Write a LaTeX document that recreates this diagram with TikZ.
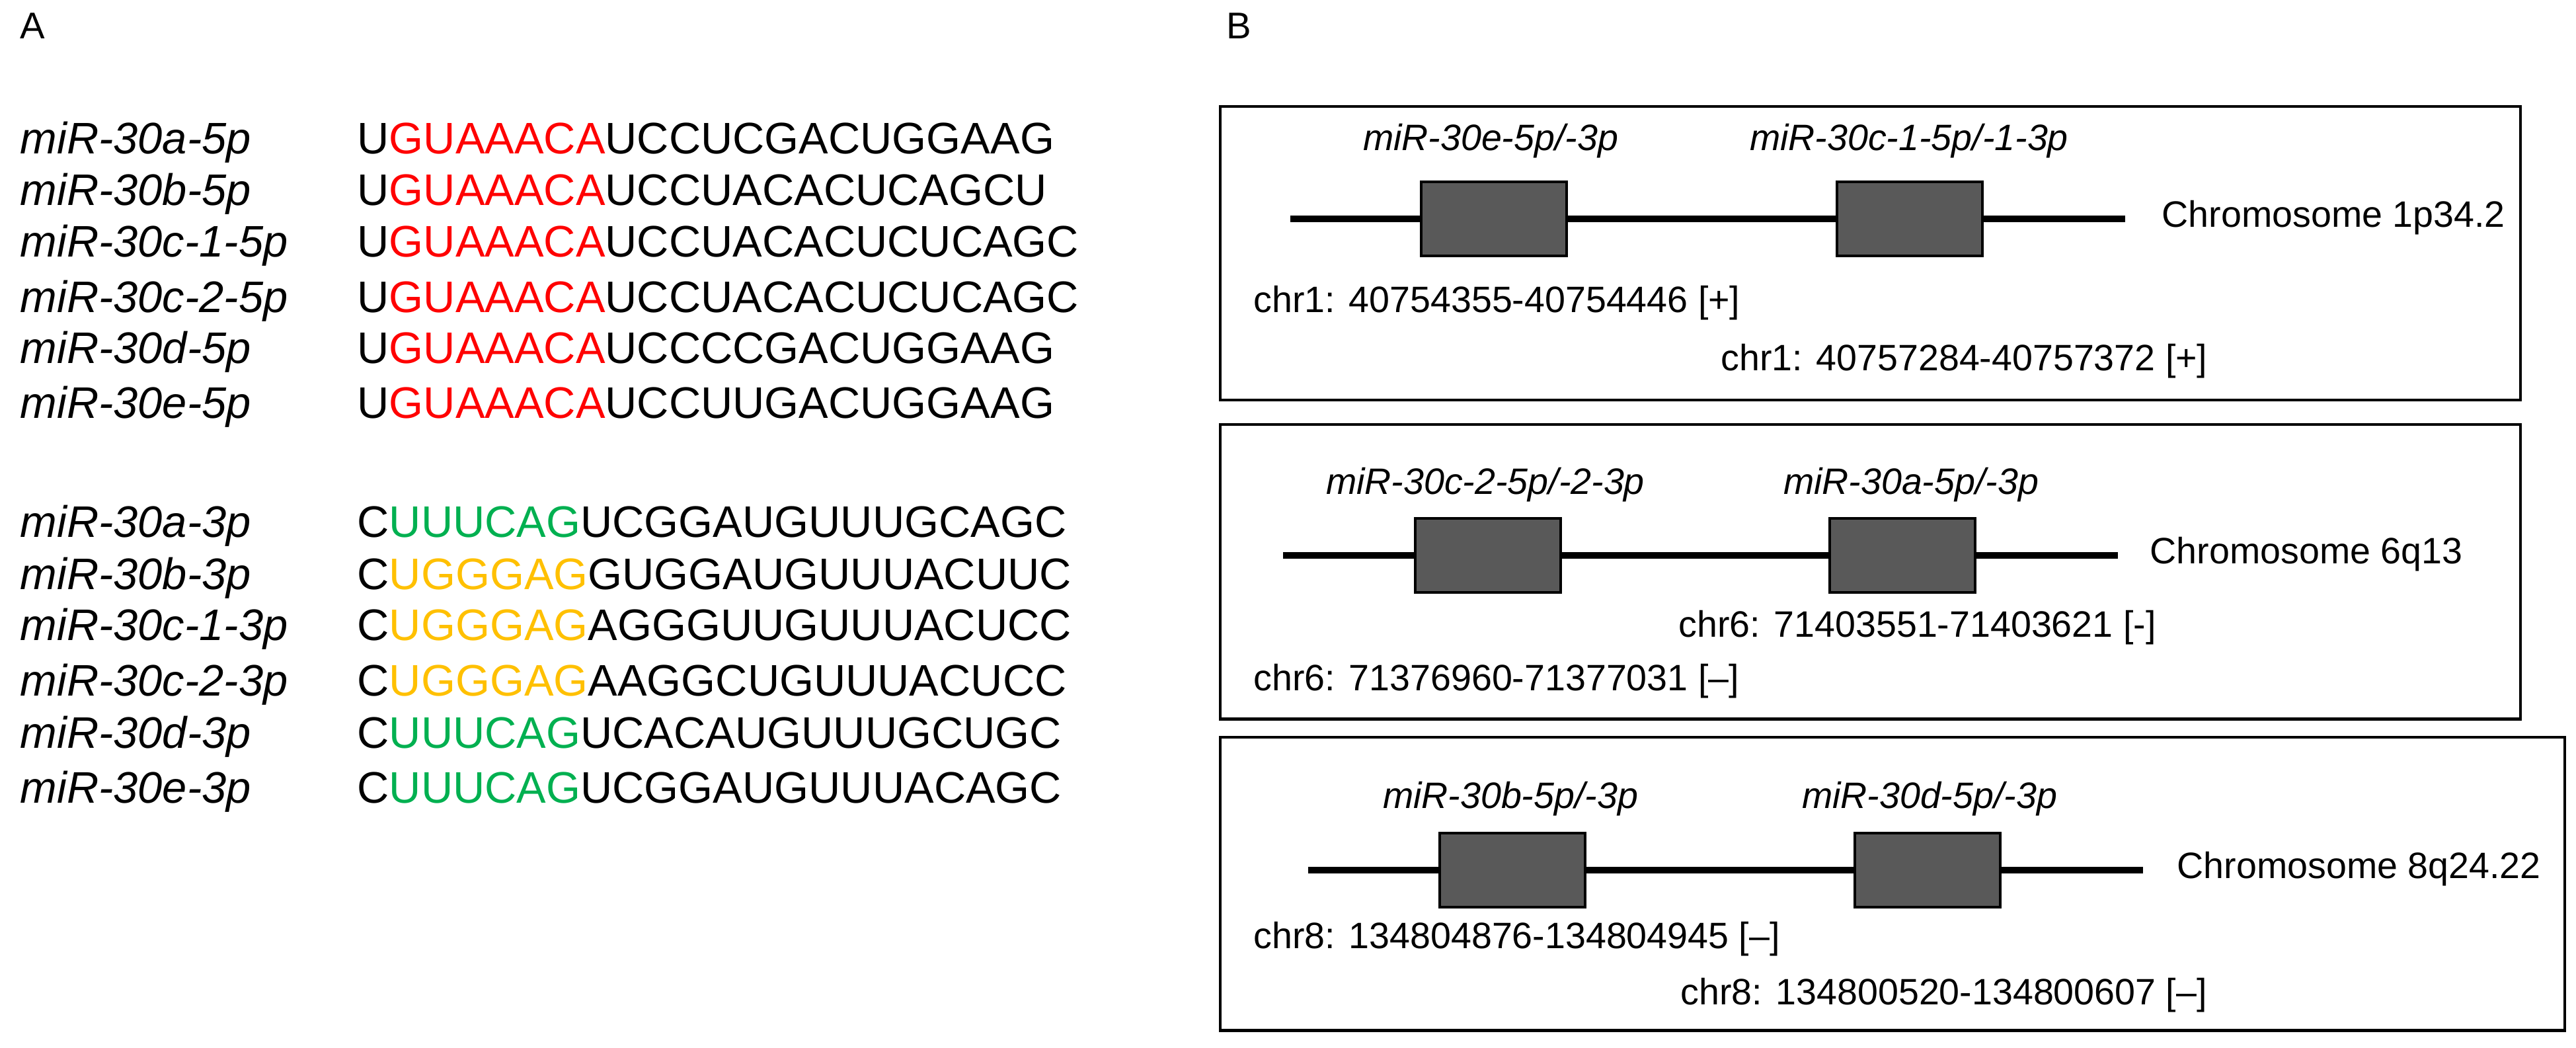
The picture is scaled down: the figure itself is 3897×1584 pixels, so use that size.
\documentclass[tikz,border=0pt]{standalone}
\usepackage{fontspec}
\setmainfont{Liberation Sans}
\definecolor{seqred}{HTML}{FF0000}
\definecolor{seqgreen}{HTML}{00B050}
\definecolor{seqyellow}{HTML}{FFC000}
\definecolor{boxgray}{HTML}{595959}
\tikzset{
  txt/.style={inner sep=0pt, text height=0.716em, text depth=0pt, anchor=west},
  seqfont/.style={txt, font=\fontsize{19}{22}\selectfont},
  labfont/.style={txt, font=\fontsize{19}{22}\selectfont\itshape},
  bfont/.style={txt, font=\fontsize{15.8}{19}\selectfont},
  bital/.style={txt, anchor=center, font=\fontsize{15.8}{19}\selectfont\itshape},
  panel/.style={draw, line width=1.2pt},
  chrline/.style={line width=2.8pt},
  gene/.style={draw, fill=boxgray, line width=1.1pt, minimum width=2.2cm, minimum height=1.12cm, inner sep=0pt},
  plab/.style={txt, font=\fontsize{16}{19}\selectfont}
}
\newcommand{\rd}[1]{\textcolor{seqred}{#1}}
\newcommand{\gr}[1]{\textcolor{seqgreen}{#1}}
\newcommand{\yl}[1]{\textcolor{seqyellow}{#1}}
\begin{document}
\begin{tikzpicture}[x=0.01cm,y=-0.01cm]
\useasboundingbox (0,0) rectangle (3897,1584);
% Panel A
\node[plab] (A) at (30,46) {A};
\foreach \n/\y/\s in {
 a5/220/{U\rd{GUAAACA}UCCUCGACUGGAAG},
 b5/298/{U\rd{GUAAACA}UCCUACACUCAGCU},
 c15/376/{U\rd{GUAAACA}UCCUACACUCUCAGC},
 c25/460/{U\rd{GUAAACA}UCCUACACUCUCAGC},
 d5/537/{U\rd{GUAAACA}UCCCCGACUGGAAG},
 e5/620/{U\rd{GUAAACA}UCCUUGACUGGAAG},
 a3/800/{C\gr{UUUCAG}UCGGAUGUUUGCAGC},
 b3/879/{C\yl{UGGGAG}GUGGAUGUUUACUUC},
 c13/956/{C\yl{UGGGAG}AGGGUUGUUUACUCC},
 c23/1040/{C\yl{UGGGAG}AAGGCUGUUUACUCC},
 d3/1119/{C\gr{UUUCAG}UCACAUGUUUGCUGC},
 e3/1202/{C\gr{UUUCAG}UCGGAUGUUUACAGC}}
 {\node[seqfont] (s\n) at (540,\y) {\s};}
\foreach \n/\y/\l in {
 a5/220/miR-30a-5p, b5/298/miR-30b-5p, c15/376/miR-30c-1-5p, c25/460/miR-30c-2-5p,
 d5/537/miR-30d-5p, e5/620/miR-30e-5p, a3/800/miR-30a-3p, b3/879/miR-30b-3p,
 c13/956/miR-30c-1-3p, c23/1040/miR-30c-2-3p, d3/1119/miR-30d-3p, e3/1202/miR-30e-3p}
 {\node[labfont] (l\n) at (30,\y) {\l};}
% Panel B
\node[plab] (B) at (1855,46) {B};
\node[panel, minimum width=19.66cm, minimum height=4.44cm, anchor=north west] (p1) at (1844,159) {};
\node[panel, minimum width=19.66cm, minimum height=4.45cm, anchor=north west] (p2) at (1844,640) {};
\node[panel, minimum width=20.33cm, minimum height=4.43cm, anchor=north west] (p3) at (1844,1113) {};
% Box 1
\coordinate (l1s) at (1952,331); \coordinate (l1e) at (3215,331);
\draw[chrline] (l1s) -- (l1e);
\node[gene] (g11) at (2260,331) {};
\node[gene] (g12) at (2889,331) {};
\node[bital] (t11) at (2255,215) {miR-30e-5p/-3p};
\node[bital] (t12) at (2888,215) {miR-30c-1-5p/-1-3p};
\node[bfont] (c1) at (3270,331) {Chromosome 1p34.2};
\node[bfont] (r11) at (1896,460) {chr1: 40754355-40754446 [+]};
\node[bfont] (r12) at (2603,548) {chr1: 40757284-40757372 [+]};
% Box 2
\coordinate (l2s) at (1941,840); \coordinate (l2e) at (3204,840);
\draw[chrline] (l2s) -- (l2e);
\node[gene] (g21) at (2251,840) {};
\node[gene] (g22) at (2878,840) {};
\node[bital] (t21) at (2247,735) {miR-30c-2-5p/-2-3p};
\node[bital] (t22) at (2891,735) {miR-30a-5p/-3p};
\node[bfont] (c2) at (3252,840) {Chromosome 6q13};
\node[bfont] (r21) at (2539,951) {chr6: 71403551-71403621 [-]};
\node[bfont] (r22) at (1896,1032) {chr6: 71376960-71377031 [–]};
% Box 3
\coordinate (l3s) at (1979,1316); \coordinate (l3e) at (3242,1316);
\draw[chrline] (l3s) -- (l3e);
\node[gene] (g31) at (2288,1316) {};
\node[gene] (g32) at (2916,1316) {};
\node[bital] (t31) at (2285,1210) {miR-30b-5p/-3p};
\node[bital] (t32) at (2919,1210) {miR-30d-5p/-3p};
\node[bfont] (c3) at (3293,1316) {Chromosome 8q24.22};
\node[bfont] (r31) at (1896,1422) {chr8: 134804876-134804945 [–]};
\node[bfont] (r32) at (2542,1507) {chr8: 134800520-134800607 [–]};
\end{tikzpicture}
\end{document}
